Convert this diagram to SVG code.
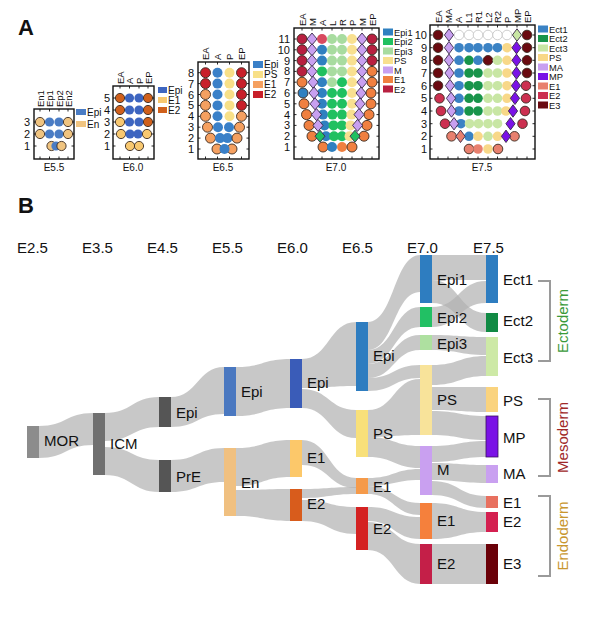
<svg xmlns="http://www.w3.org/2000/svg" width="600" height="623" viewBox="0 0 600 623">
<style>
text{font-family:"Liberation Sans",Arial,sans-serif;fill:#111}
.pl{font-size:22px;font-weight:bold}
.rl{font-size:11px;text-anchor:end}
.hd{font-size:9.5px}
.lg{font-size:10px}
.ls{font-size:9.3px}
.bl{font-size:10px;text-anchor:middle}
.box{fill:none;stroke:#111;stroke-width:1.4}
.tk{fill:none;stroke:#111;stroke-width:0.9}
.o{stroke:#3a2a20;stroke-width:0.9}
.dm{stroke:#3a2a4a;stroke-width:0.9}
#a55 circle{r:4.6px}
#a60 circle{r:4.6px}
#a65 circle{r:5px}
#a70 circle{r:5px}
#a75 circle{r:4.8px}
.c55epi{fill:#4a7cc4}.c55en{fill:#f0c480}
.c60epi{fill:#3d65c0}.c60e1{fill:#f8c870}.c60e2{fill:#d0601c}
.c65epi{fill:#3a80c8}.c65ps{fill:#f8e088}.c65e1{fill:#f5a060}.c65e2{fill:#c8202a}
.c70p1{fill:#2f80c0}.c70p2{fill:#20c060}.c70p3{fill:#a8dca0}.c70ps{fill:#f8e090}.c70m{fill:#c8a0f0}.c70e1{fill:#f08040}.c70e2{fill:#b82040}.c70x{fill:#d84a60}
.c75t1{fill:#3a82c4}.c75t2{fill:#18944a}.c75t3{fill:#c8e6a4}.c75ps{fill:#f8d888}.c75ma{fill:#c8a0f0}.c75mp{fill:#7a12e6}.c75e1{fill:#e8806e}.c75e2{fill:#cc3050}.c75e3{fill:#6a0a10}.c75no{fill:#fff;stroke:#c8c8c8;stroke-width:0.9}
.fl{fill:#b0b0b0;opacity:0.7}
.nl{font-size:15px}
.tl{font-size:15px;text-anchor:middle}
.br{fill:none;stroke:#9a9a9a;stroke-width:2}
.gl{font-size:15px;text-anchor:middle}
</style>
<defs>
<path id="d7" d="M0,-6L5,0L0,6L-5,0Z"/>
<path id="d8" d="M0,-6.2L4.6,0L0,6.2L-4.6,0Z"/>
</defs>

<text class="pl" x="18" y="35">A</text>
<text class="pl" x="18" y="213">B</text>

<!-- Panel A: E5.5 -->
<g id="a55">
<rect class="box" x="34" y="109" width="40" height="50"/>
<path class="tk" d="M34,122h2.5M34,134h2.5M34,146h2.5M74,122h-2.5M74,134h-2.5M74,146h-2.5M40,109v2.5M49.5,109v2.5M59,109v2.5M68,109v2.5M40,159v-2.5M49.5,159v-2.5M59,159v-2.5M68,159v-2.5"/>
<circle class="c55en o" cx="40" cy="122"/><circle class="c55epi" cx="49.5" cy="122"/><circle class="c55epi" cx="59" cy="122"/><circle class="c55en o" cx="68" cy="122"/>
<circle class="c55en o" cx="40" cy="134"/><circle class="c55epi" cx="49.5" cy="134"/><circle class="c55epi" cx="59" cy="134"/><circle class="c55en o" cx="68" cy="134"/>
<circle class="c55en o" cx="51.5" cy="146"/><circle class="c55epi" cx="56" cy="146"/><circle class="c55en o" cx="61.5" cy="146"/>
<text class="rl" x="30" y="126">3</text><text class="rl" x="30" y="138">2</text><text class="rl" x="30" y="150">1</text>
<text class="hd" transform="translate(43.5,107) rotate(-90)">En1</text>
<text class="hd" transform="translate(53,107) rotate(-90)">Ep1</text>
<text class="hd" transform="translate(62.5,107) rotate(-90)">Ep2</text>
<text class="hd" transform="translate(71.5,107) rotate(-90)">En2</text>
<rect class="c55epi" x="76" y="109" width="10" height="6"/><text class="lg" x="87" y="115.5">Epi</text>
<rect class="c55en" x="76" y="121" width="10" height="6"/><text class="lg" x="87" y="127.5">En</text>
<text class="bl" x="54" y="171">E5.5</text>
</g>

<!-- Panel A: E6.0 -->
<g id="a60">
<rect class="box" x="113" y="86" width="41" height="73"/>
<path class="tk" d="M113,98h2.5M113,110h2.5M113,122h2.5M113,134h2.5M113,146h2.5M154,98h-2.5M154,110h-2.5M154,122h-2.5M154,134h-2.5M154,146h-2.5M120,86v2.5M129.5,86v2.5M139,86v2.5M148,86v2.5M120,159v-2.5M129.5,159v-2.5M139,159v-2.5M148,159v-2.5"/>
<circle class="c60e2 o" cx="120" cy="98"/><circle class="c60epi" cx="129.5" cy="98"/><circle class="c60epi" cx="139" cy="98"/><circle class="c60e2 o" cx="148" cy="98"/>
<circle class="c60e2 o" cx="120" cy="110"/><circle class="c60epi" cx="129.5" cy="110"/><circle class="c60epi" cx="139" cy="110"/><circle class="c60e2 o" cx="148" cy="110"/>
<circle class="c60e1 o" cx="120" cy="122"/><circle class="c60epi" cx="129.5" cy="122"/><circle class="c60epi" cx="139" cy="122"/><circle class="c60e2 o" cx="148" cy="122"/>
<circle class="c60e1 o" cx="121" cy="134"/><circle class="c60epi" cx="130" cy="134"/><circle class="c60epi" cx="138" cy="134"/><circle class="c60e1 o" cx="147" cy="134"/>
<circle class="c60e1 o" cx="130" cy="146"/><circle class="c60e1 o" cx="139" cy="146"/>
<text class="rl" x="110" y="102">5</text><text class="rl" x="110" y="114">4</text><text class="rl" x="110" y="126">3</text><text class="rl" x="110" y="138">2</text><text class="rl" x="110" y="150">1</text>
<text class="hd" transform="translate(123.5,84) rotate(-90)">EA</text>
<text class="hd" transform="translate(133,84) rotate(-90)">A</text>
<text class="hd" transform="translate(142.5,84) rotate(-90)">P</text>
<text class="hd" transform="translate(151.5,84) rotate(-90)">EP</text>
<rect class="c60epi" x="158" y="87" width="9" height="6"/><text class="lg" x="168" y="93.5">Epi</text>
<rect class="c60e1" x="158" y="97" width="9" height="6"/><text class="lg" x="168" y="103.5">E1</text>
<rect class="c60e2" x="158" y="107" width="9" height="6"/><text class="lg" x="168" y="113.5">E2</text>
<text class="bl" x="133" y="171">E6.0</text>
</g>

<!-- Panel A: E6.5 -->
<g id="a65">
<rect class="box" x="198" y="62" width="51" height="97"/>
<path class="tk" d="M198,72.7h2.5M198,83.6h2.5M198,94.5h2.5M198,105.4h2.5M198,116.3h2.5M198,127.2h2.5M198,138.1h2.5M198,149h2.5M249,72.7h-2.5M249,83.6h-2.5M249,94.5h-2.5M249,105.4h-2.5M249,116.3h-2.5M249,127.2h-2.5M249,138.1h-2.5M249,149h-2.5M205.5,62v2.5M217.5,62v2.5M229.5,62v2.5M241.5,62v2.5M205.5,159v-2.5M217.5,159v-2.5M229.5,159v-2.5M241.5,159v-2.5"/>
<circle class="c65e2 o" cx="205.5" cy="72.7"/><circle class="c65epi" cx="217.5" cy="72.7"/><circle class="c65ps" cx="229.5" cy="72.7"/><circle class="c65e2 o" cx="241.5" cy="72.7"/>
<circle class="c65e2 o" cx="205.5" cy="83.6"/><circle class="c65epi" cx="217.5" cy="83.6"/><circle class="c65ps" cx="229.5" cy="83.6"/><circle class="c65e2 o" cx="241.5" cy="83.6"/>
<circle class="c65e1 o" cx="205.5" cy="94.5"/><circle class="c65epi" cx="217.5" cy="94.5"/><circle class="c65ps" cx="229.5" cy="94.5"/><circle class="c65e2 o" cx="241.5" cy="94.5"/>
<circle class="c65e1 o" cx="205.5" cy="105.4"/><circle class="c65epi" cx="217.5" cy="105.4"/><circle class="c65ps" cx="229.5" cy="105.4"/><circle class="c65e2 o" cx="241.5" cy="105.4"/>
<circle class="c65e1 o" cx="205.5" cy="116.3"/><circle class="c65epi" cx="217.5" cy="116.3"/><circle class="c65ps" cx="229.5" cy="116.3"/><circle class="c65e1 o" cx="241.5" cy="116.3"/>
<circle class="c65e1 o" cx="207.5" cy="127.2"/><circle class="c65epi" cx="218" cy="127.2"/><circle class="c65epi" cx="229" cy="127.2"/><circle class="c65e1 o" cx="239.5" cy="127.2"/>
<circle class="c65e1 o" cx="210.5" cy="138.1"/><circle class="c65epi" cx="220" cy="138.1"/><circle class="c65epi" cx="227.5" cy="138.1"/><circle class="c65e1 o" cx="237" cy="138.1"/>
<circle class="c65e1 o" cx="217" cy="149"/><circle class="c65e1 o" cx="232" cy="149"/><circle class="c65epi" cx="224.5" cy="149"/>
<text class="rl" x="194" y="76.7">8</text><text class="rl" x="194" y="87.6">7</text><text class="rl" x="194" y="98.5">6</text><text class="rl" x="194" y="109.4">5</text><text class="rl" x="194" y="120.3">4</text><text class="rl" x="194" y="131.2">3</text><text class="rl" x="194" y="142.1">2</text><text class="rl" x="194" y="153">1</text>
<text class="hd" transform="translate(209,60) rotate(-90)">EA</text>
<text class="hd" transform="translate(221,60) rotate(-90)">A</text>
<text class="hd" transform="translate(233,60) rotate(-90)">P</text>
<text class="hd" transform="translate(245,60) rotate(-90)">EP</text>
<rect class="c65epi" x="253" y="61" width="10" height="7"/><text class="lg" x="264" y="68">Epi</text>
<rect class="c65ps" x="253" y="71" width="10" height="7"/><text class="lg" x="264" y="78">PS</text>
<rect class="c65e1" x="253" y="81" width="10" height="7"/><text class="lg" x="264" y="88">E1</text>
<rect class="c65e2" x="253" y="91" width="10" height="7"/><text class="lg" x="264" y="98">E2</text>
<text class="bl" x="223" y="171">E6.5</text>
</g>

<!-- Panel A: E7.0 -->
<g id="a70">
<rect class="box" x="294" y="28" width="85" height="131"/>
<path class="tk" d="M294,39h2.5M294,49.8h2.5M294,60.6h2.5M294,71.4h2.5M294,82.2h2.5M294,93h2.5M294,103.8h2.5M294,114.6h2.5M294,125.4h2.5M294,136.2h2.5M294,147h2.5M379,39h-2.5M379,49.8h-2.5M379,60.6h-2.5M379,71.4h-2.5M379,82.2h-2.5M379,93h-2.5M379,103.8h-2.5M379,114.6h-2.5M379,125.4h-2.5M379,136.2h-2.5M379,147h-2.5M302,28v2.5M312,28v2.5M322,28v2.5M332,28v2.5M342,28v2.5M352,28v2.5M362,28v2.5M372,28v2.5M302,159v-2.5M312,159v-2.5M322,159v-2.5M332,159v-2.5M342,159v-2.5M352,159v-2.5M362,159v-2.5M372,159v-2.5"/>
<circle class="c70e2 o" cx="302" cy="39"/><circle class="c70e2 o" cx="372" cy="39"/>
<circle class="c70e2 o" cx="302" cy="49.8"/><circle class="c70e2 o" cx="372" cy="49.8"/>
<circle class="c70e2 o" cx="302" cy="60.6"/><circle class="c70e2 o" cx="372" cy="60.6"/>
<circle class="c70e2 o" cx="302" cy="71.4"/><circle class="c70e1 o" cx="372" cy="71.4"/>
<circle class="c70e1 o" cx="302" cy="82.2"/><circle class="c70e1 o" cx="372" cy="82.2"/>
<circle class="c70p1 o" cx="303" cy="93"/><circle class="c70e1 o" cx="371" cy="93"/>
<circle class="c70e1 o" cx="304" cy="103.8"/><circle class="c70e1 o" cx="371" cy="103.8"/>
<circle class="c70e1 o" cx="306.5" cy="114.6"/><circle class="c70e1 o" cx="369" cy="114.6"/>
<circle class="c70e1 o" cx="309" cy="125.4"/><circle class="c70e1 o" cx="367" cy="125.4"/>
<circle class="c70e1 o" cx="312" cy="136.2"/><circle class="c70e1 o" cx="364" cy="136.2"/>
<circle class="c70x" cx="322" cy="39"/><circle class="c70p3" cx="332" cy="39"/><circle class="c70p3" cx="342" cy="39"/><circle class="c70ps" cx="352" cy="39"/>
<circle class="c70p1" cx="322" cy="49.8"/><circle class="c70p3" cx="332" cy="49.8"/><circle class="c70p3" cx="342" cy="49.8"/><circle class="c70ps" cx="352" cy="49.8"/>
<circle class="c70p1" cx="322" cy="60.6"/><circle class="c70p3" cx="332" cy="60.6"/><circle class="c70p3" cx="342" cy="60.6"/><circle class="c70ps" cx="352" cy="60.6"/>
<circle class="c70p2" cx="322" cy="71.4"/><circle class="c70p3" cx="332" cy="71.4"/><circle class="c70p3" cx="342" cy="71.4"/><circle class="c70ps" cx="352" cy="71.4"/>
<circle class="c70p1" cx="322" cy="82.2"/><circle class="c70p3" cx="332" cy="82.2"/><circle class="c70p2" cx="342" cy="82.2"/><circle class="c70ps" cx="352" cy="82.2"/>
<circle class="c70p1" cx="322" cy="93"/><circle class="c70p2" cx="332" cy="93"/><circle class="c70p2" cx="342" cy="93"/><circle class="c70ps" cx="352" cy="93"/>
<circle class="c70p1" cx="322" cy="103.8"/><circle class="c70p2" cx="332" cy="103.8"/><circle class="c70p2" cx="342" cy="103.8"/><circle class="c70ps" cx="352" cy="103.8"/>
<circle class="c70p1" cx="323" cy="114.6"/><circle class="c70p2" cx="332.5" cy="114.6"/><circle class="c70p2" cx="342" cy="114.6"/><circle class="c70ps" cx="351.5" cy="114.6"/>
<circle class="c70p1" cx="324.5" cy="125.4"/><circle class="c70p2" cx="333.5" cy="125.4"/><circle class="c70p2" cx="342" cy="125.4"/><circle class="c70ps" cx="350.5" cy="125.4"/>
<circle class="c70p1" cx="326" cy="136.2"/><circle class="c70p2" cx="334" cy="136.2"/><circle class="c70p2" cx="342" cy="136.2"/><circle class="c70ps" cx="349.5" cy="136.2"/>
<circle class="c70e1 o" cx="323" cy="147"/><circle class="c70e1" cx="342" cy="147"/><circle class="c70e1 o" cx="352" cy="147"/><circle class="c70p1" cx="332" cy="147"/>
<use href="#d7" class="c70m dm" x="312" y="39"/><use href="#d7" class="c70m dm" x="362" y="39"/>
<use href="#d7" class="c70m dm" x="312" y="49.8"/><use href="#d7" class="c70m dm" x="362" y="49.8"/>
<use href="#d7" class="c70m dm" x="312" y="60.6"/><use href="#d7" class="c70m dm" x="362" y="60.6"/>
<use href="#d7" class="c70m dm" x="312" y="71.4"/><use href="#d7" class="c70m dm" x="362" y="71.4"/>
<use href="#d7" class="c70m dm" x="313" y="82.2"/><use href="#d7" class="c70m dm" x="362" y="82.2"/>
<use href="#d7" class="c70m dm" x="314" y="93"/><use href="#d7" class="c70m dm" x="361" y="93"/>
<use href="#d7" class="c70m dm" x="315" y="103.8"/><use href="#d7" class="c70m dm" x="360" y="103.8"/>
<use href="#d7" class="c70m dm" x="316.5" y="114.6"/><use href="#d7" class="c70m dm" x="359" y="114.6"/>
<use href="#d7" class="c70m dm" x="318" y="125.4"/><use href="#d7" class="c70m dm" x="357.5" y="125.4"/>
<use href="#d7" class="c70p2 dm" x="320" y="136.2"/><use href="#d7" class="c70p2 dm" x="355" y="136.2"/>
<text class="rl" x="290" y="43">11</text><text class="rl" x="290" y="53.8">10</text><text class="rl" x="290" y="64.6">9</text><text class="rl" x="290" y="75.4">8</text><text class="rl" x="290" y="86.2">7</text><text class="rl" x="290" y="97">6</text><text class="rl" x="290" y="107.8">5</text><text class="rl" x="290" y="118.6">4</text><text class="rl" x="290" y="129.4">3</text><text class="rl" x="290" y="140.2">2</text><text class="rl" x="290" y="151">1</text>
<text class="hd" transform="translate(305.5,26) rotate(-90)">EA</text>
<text class="hd" transform="translate(315.5,26) rotate(-90)">M</text>
<text class="hd" transform="translate(325.5,26) rotate(-90)">A</text>
<text class="hd" transform="translate(335.5,26) rotate(-90)">L</text>
<text class="hd" transform="translate(345.5,26) rotate(-90)">R</text>
<text class="hd" transform="translate(355.5,26) rotate(-90)">P</text>
<text class="hd" transform="translate(365.5,26) rotate(-90)">M</text>
<text class="hd" transform="translate(375.5,26) rotate(-90)">EP</text>
<rect class="c70p1" x="383" y="28.5" width="10" height="7"/><text class="ls" x="394" y="35.5">Epi1</text>
<rect class="c70p2" x="383" y="38" width="10" height="7"/><text class="ls" x="394" y="45">Epi2</text>
<rect class="c70p3" x="383" y="47.5" width="10" height="7"/><text class="ls" x="394" y="54.5">Epi3</text>
<rect class="c70ps" x="383" y="57" width="10" height="7"/><text class="ls" x="394" y="64">PS</text>
<rect class="c70m" x="383" y="66.5" width="10" height="7"/><text class="ls" x="394" y="73.5">M</text>
<rect class="c70e1" x="383" y="76" width="10" height="7"/><text class="ls" x="394" y="83">E1</text>
<rect class="c70e2" x="383" y="85.5" width="10" height="7"/><text class="ls" x="394" y="92.5">E2</text>
<text class="bl" x="336" y="171">E7.0</text>
</g>

<!-- Panel A: E7.5 -->
<g id="a75">
<rect class="box" x="430" y="25" width="105" height="134"/>
<path class="tk" d="M430,35h2.5M430,47.7h2.5M430,60.3h2.5M430,73h2.5M430,85.7h2.5M430,98.3h2.5M430,111h2.5M430,123.7h2.5M430,136.3h2.5M430,149h2.5M535,35h-2.5M535,47.7h-2.5M535,60.3h-2.5M535,73h-2.5M535,85.7h-2.5M535,98.3h-2.5M535,111h-2.5M535,123.7h-2.5M535,136.3h-2.5M535,149h-2.5M438,25v2.5M448,25v2.5M458,25v2.5M468,25v2.5M478,25v2.5M488,25v2.5M497.5,25v2.5M507,25v2.5M517,25v2.5M527,25v2.5M438,159v-2.5M448,159v-2.5M458,159v-2.5M468,159v-2.5M478,159v-2.5M488,159v-2.5M497.5,159v-2.5M507,159v-2.5M517,159v-2.5M527,159v-2.5"/>
<circle class="c75e3 o" cx="438" cy="35"/><circle class="c75e3 o" cx="527" cy="35"/>
<circle class="c75e3 o" cx="438" cy="47.7"/><circle class="c75e3 o" cx="527" cy="47.7"/>
<circle class="c75e3 o" cx="438" cy="60.3"/><circle class="c75e3 o" cx="527" cy="60.3"/>
<circle class="c75e3 o" cx="438" cy="73"/><circle class="c75e3 o" cx="527" cy="73"/>
<circle class="c75e3 o" cx="438" cy="85.7"/><circle class="c75e2 o" cx="526" cy="85.7"/>
<circle class="c75e2 o" cx="439.5" cy="98.3"/><circle class="c75e2 o" cx="526" cy="98.3"/>
<circle class="c75e2 o" cx="441" cy="111"/><circle class="c75e2 o" cx="525" cy="111"/>
<circle class="c75e2 o" cx="445" cy="123.7"/><circle class="c75e2 o" cx="522.5" cy="123.7"/>
<circle class="c75e1 o" cx="451.5" cy="136.3"/><circle class="c75e1 o" cx="514.5" cy="136.3"/>
<circle class="c75no" cx="459" cy="35"/><circle class="c75no" cx="469" cy="35"/><circle class="c75no" cx="478" cy="35"/><circle class="c75no" cx="488" cy="35"/><circle class="c75no" cx="497.5" cy="35"/><circle class="c75no" cx="507" cy="35"/>
<circle class="c75t1" cx="459" cy="47.7"/><circle class="c75t1" cx="469" cy="47.7"/><circle class="c75t1" cx="478" cy="47.7"/><circle class="c75t1" cx="488" cy="47.7"/><circle class="c75t1" cx="497.5" cy="47.7"/><circle class="c75ps" cx="507" cy="47.7"/>
<circle class="c75t1" cx="459" cy="60.3"/><circle class="c75t2" cx="469" cy="60.3"/><circle class="c75t1" cx="478" cy="60.3"/><circle class="c75e3 o" cx="488" cy="60.3"/><circle class="c75t3" cx="497.5" cy="60.3"/><circle class="c75ps" cx="507" cy="60.3"/>
<circle class="c75t1" cx="459" cy="73"/><circle class="c75t2" cx="469" cy="73"/><circle class="c75t2" cx="478" cy="73"/><circle class="c75t3" cx="488" cy="73"/><circle class="c75t3" cx="497.5" cy="73"/><circle class="c75ps" cx="507" cy="73"/>
<circle class="c75t1" cx="459" cy="85.7"/><circle class="c75t2" cx="469" cy="85.7"/><circle class="c75t2" cx="478" cy="85.7"/><circle class="c75t3" cx="488" cy="85.7"/><circle class="c75t3" cx="497.5" cy="85.7"/><circle class="c75ps" cx="507" cy="85.7"/>
<circle class="c75t1" cx="459" cy="98.3"/><circle class="c75t2" cx="469" cy="98.3"/><circle class="c75t2" cx="478" cy="98.3"/><circle class="c75t3" cx="488" cy="98.3"/><circle class="c75t3" cx="497.5" cy="98.3"/><circle class="c75ps" cx="507" cy="98.3"/>
<circle class="c75t1" cx="459" cy="111"/><circle class="c75t2" cx="469" cy="111"/><circle class="c75t2" cx="478" cy="111"/><circle class="c75t3" cx="488" cy="111"/><circle class="c75t3" cx="497.5" cy="111"/><circle class="c75ps" cx="506" cy="111"/>
<circle class="c75t1" cx="461" cy="123.7"/><circle class="c75t3" cx="469.5" cy="123.7"/><circle class="c75t3" cx="478.5" cy="123.7"/><circle class="c75t3" cx="488" cy="123.7"/><circle class="c75t3" cx="497.5" cy="123.7"/>
<circle class="c75t1" cx="469" cy="136.3"/><circle class="c75ps" cx="478" cy="136.3"/><circle class="c75t3" cx="488" cy="136.3"/><circle class="c75ps" cx="497.5" cy="136.3"/>
<circle class="c75e1 o" cx="469" cy="149"/><circle class="c75e1" cx="478" cy="149"/><circle class="c75ps" cx="488" cy="149"/><circle class="c75e1 o" cx="498" cy="149"/>
<use href="#d8" class="c75ma dm" x="449" y="35"/><use href="#d8" class="c75t3 dm" x="517" y="35"/>
<use href="#d8" class="c75ma dm" x="449" y="47.7"/><use href="#d8" class="c75mp dm" x="516.5" y="47.7"/>
<use href="#d8" class="c75ma dm" x="449" y="60.3"/><use href="#d8" class="c75mp dm" x="516.5" y="60.3"/>
<use href="#d8" class="c75ma dm" x="449.5" y="73"/><use href="#d8" class="c75mp dm" x="516.5" y="73"/>
<use href="#d8" class="c75ma dm" x="450" y="85.7"/><use href="#d8" class="c75mp dm" x="516" y="85.7"/>
<use href="#d8" class="c75ma dm" x="451" y="98.3"/><use href="#d8" class="c75mp dm" x="515" y="98.3"/>
<use href="#d8" class="c75ma dm" x="451.5" y="111"/><use href="#d8" class="c75mp dm" x="513" y="111"/>
<use href="#d8" class="c75ma dm" x="454" y="123.7"/><use href="#d8" class="c75mp dm" x="510.5" y="123.7"/>
<use href="#d8" class="c75e1 dm" x="460.5" y="136.3"/><use href="#d8" class="c75mp dm" x="506" y="136.3"/>
<text class="rl" x="427" y="39">10</text><text class="rl" x="427" y="51.7">9</text><text class="rl" x="427" y="64.3">8</text><text class="rl" x="427" y="77">7</text><text class="rl" x="427" y="89.7">6</text><text class="rl" x="427" y="102.3">5</text><text class="rl" x="427" y="115">4</text><text class="rl" x="427" y="127.7">3</text><text class="rl" x="427" y="140.3">2</text><text class="rl" x="427" y="153">1</text>
<text class="hd" transform="translate(441.5,23) rotate(-90)">EA</text>
<text class="hd" transform="translate(451.5,23) rotate(-90)">MA</text>
<text class="hd" transform="translate(461.5,23) rotate(-90)">A</text>
<text class="hd" transform="translate(471.5,23) rotate(-90)">L1</text>
<text class="hd" transform="translate(481.5,23) rotate(-90)">R1</text>
<text class="hd" transform="translate(491.5,23) rotate(-90)">L2</text>
<text class="hd" transform="translate(501,23) rotate(-90)">R2</text>
<text class="hd" transform="translate(510.5,23) rotate(-90)">P</text>
<text class="hd" transform="translate(520.5,23) rotate(-90)">MP</text>
<text class="hd" transform="translate(530.5,23) rotate(-90)">EP</text>
<rect class="c75t1" x="538" y="25.5" width="10" height="7"/><text class="ls" x="549" y="32.5">Ect1</text>
<rect class="c75t2" x="538" y="35" width="10" height="7"/><text class="ls" x="549" y="42">Ect2</text>
<rect class="c75t3" x="538" y="44.5" width="10" height="7"/><text class="ls" x="549" y="51.5">Ect3</text>
<rect class="c75ps" x="538" y="54" width="10" height="7"/><text class="ls" x="549" y="61">PS</text>
<rect class="c75ma" x="538" y="63.5" width="10" height="7"/><text class="ls" x="549" y="70.5">MA</text>
<rect class="c75mp" x="538" y="73" width="10" height="7"/><text class="ls" x="549" y="80">MP</text>
<rect class="c75e1" x="538" y="82.5" width="10" height="7"/><text class="ls" x="549" y="89.5">E1</text>
<rect class="c75e2" x="538" y="92" width="10" height="7"/><text class="ls" x="549" y="99">E2</text>
<rect class="c75e3" x="538" y="101.5" width="10" height="7"/><text class="ls" x="549" y="108.5">E3</text>
<text class="bl" x="482" y="171">E7.5</text>
</g>

<!-- Panel B timeline -->
<g id="timeline">
<text class="tl" x="32.5" y="253">E2.5</text>
<text class="tl" x="97.5" y="253">E3.5</text>
<text class="tl" x="162.5" y="253">E4.5</text>
<text class="tl" x="227.5" y="253">E5.5</text>
<text class="tl" x="292.5" y="253">E6.0</text>
<text class="tl" x="357.5" y="253">E6.5</text>
<text class="tl" x="422.5" y="253">E7.0</text>
<text class="tl" x="488.5" y="253">E7.5</text>
</g>

<!-- connectors -->
<g id="flows">
<path class="fl" d="M39,426C66,426 66,413 93,413L93,445C66,445 66,458 39,458Z"/>
<path class="fl" d="M105,413C132,413 132,397 159,397L159,427C132,427 132,441 105,441Z"/>
<path class="fl" d="M105,447C132,447 132,460 159,460L159,492C132,492 132,475 105,475Z"/>
<path class="fl" d="M171,397C197.5,397 197.5,367 224,367L224,414C197.5,414 197.5,427 171,427Z"/>
<path class="fl" d="M171,460C197.5,460 197.5,448 224,448L224,482C197.5,482 197.5,492 171,492Z"/>
<path class="fl" d="M236,367C263,367 263,359 290,359L290,408C263,408 263,416 236,416Z"/>
<path class="fl" d="M236,448C263,448 263,440 290,440L290,477C263,477 263,486 236,486Z"/>
<path class="fl" d="M236,490C263,490 263,489 290,489L290,521C263,521 263,516 236,516Z"/>
<path class="fl" d="M302,359C329,359 329,322 356,322L356,386C329,386 329,388 302,388Z"/>
<path class="fl" d="M302,389C329,389 329,410 356,410L356,438C329,438 329,408 302,408Z"/>
<path class="fl" d="M302,440C329,440 329,478 356,478L356,488C329,488 329,465 302,465Z"/>
<path class="fl" d="M302,489C329,489 329,487 356,487L356,494C329,494 329,498 302,498Z"/>
<path class="fl" d="M302,500C329,500 329,507 356,507L356,534C329,534 329,521 302,521Z"/>
<path class="fl" d="M368,322C394,322 394,255 420,255L420,292C394,292 394,350 368,350Z"/>
<path class="fl" d="M368,350C394,350 394,307 420,307L420,327C394,327 394,364 368,364Z"/>
<path class="fl" d="M368,364C394,364 394,335 420,335L420,350C394,350 394,378 368,378Z"/>
<path class="fl" d="M368,378C394,378 394,365 420,365L420,378C394,378 394,391 368,391Z"/>
<path class="fl" d="M368,410C394,410 394,379 420,379L420,435C394,435 394,437 368,437Z"/>
<path class="fl" d="M368,437C394,437 394,446 420,446L420,468C394,468 394,457 368,457Z"/>
<path class="fl" d="M368,478C394,478 394,469 420,469L420,480C394,480 394,486 368,486Z"/>
<path class="fl" d="M368,486C394,486 394,503 420,503L420,515C394,515 394,494 368,494Z"/>
<path class="fl" d="M368,507C394,507 394,517 420,517L420,539C394,539 394,521 368,521Z"/>
<path class="fl" d="M368,522C394,522 394,544 420,544L420,584C394,584 394,550 368,550Z"/>
<path class="fl" d="M432,255C459,255 459,255 486,255L486,280C459,280 459,280 432,280Z"/>
<path class="fl" d="M432,280C459,280 459,313 486,313L486,332C459,332 459,303 432,303Z"/>
<path class="fl" d="M432,307C459,307 459,281 486,281L486,303C459,303 459,327 432,327Z"/>
<path class="fl" d="M432,335C459,335 459,337 486,337L486,355C459,355 459,350 432,350Z"/>
<path class="fl" d="M432,365C459,365 459,356 486,356L486,376C459,376 459,385 432,385Z"/>
<path class="fl" d="M432,387C459,387 459,387 486,387L486,412C459,412 459,410 432,410Z"/>
<path class="fl" d="M432,411C459,411 459,416 486,416L486,440C459,440 459,435 432,435Z"/>
<path class="fl" d="M432,446C459,446 459,441 486,441L486,457C459,457 459,462 432,462Z"/>
<path class="fl" d="M432,463C459,463 459,465 486,465L486,483C459,483 459,480 432,480Z"/>
<path class="fl" d="M432,481C459,481 459,496 486,496L486,508C459,508 459,495 432,495Z"/>
<path class="fl" d="M432,503C459,503 459,512 486,512L486,532C459,532 459,539 432,539Z"/>
<path class="fl" d="M432,544C459,544 459,544 486,544L486,584C459,584 459,584 432,584Z"/>
</g>

<!-- nodes -->
<g id="n-mor"><rect x="27" y="426" width="12" height="32" fill="#8c8c8c"/><text class="nl" x="44" y="446">MOR</text></g>
<g id="n-icm"><rect x="93" y="413" width="12" height="62" fill="#707070"/><text class="nl" x="110" y="449">ICM</text></g>
<g id="n-epi45"><rect x="159" y="397" width="12" height="30" fill="#555"/><text class="nl" x="176" y="418">Epi</text></g>
<g id="n-pre"><rect x="159" y="460" width="12" height="32" fill="#555"/><text class="nl" x="176" y="482">PrE</text></g>
<g id="n-epi55"><rect x="224" y="367" width="12" height="49" fill="#4a78c0"/><text class="nl" x="241" y="397">Epi</text></g>
<g id="n-en"><rect x="224" y="448" width="12" height="68" fill="#f0c080"/><text class="nl" x="241" y="488">En</text></g>
<g id="n-epi60"><rect x="290" y="359" width="12" height="49" fill="#3a5cb8"/><text class="nl" x="307" y="388">Epi</text></g>
<g id="n-e1-60"><rect x="290" y="440" width="12" height="37" fill="#fcc86a"/><text class="nl" x="307" y="463">E1</text></g>
<g id="n-e2-60"><rect x="290" y="489" width="12" height="32" fill="#d85c1c"/><text class="nl" x="307" y="509">E2</text></g>
<g id="n-epi65"><rect x="356" y="322" width="12" height="69" fill="#2e7dc0"/><text class="nl" x="373" y="361">Epi</text></g>
<g id="n-ps65"><rect x="356" y="410" width="12" height="47" fill="#f8e07a"/><text class="nl" x="373" y="439">PS</text></g>
<g id="n-e1-65"><rect x="356" y="478" width="12" height="16" fill="#f59a4a"/><text class="nl" x="373" y="492">E1</text></g>
<g id="n-e2-65"><rect x="356" y="507" width="12" height="43" fill="#d42222"/><text class="nl" x="373" y="534">E2</text></g>
<g id="n-epi1"><rect x="420" y="255" width="12" height="48" fill="#2e7dc0"/><text class="nl" x="437" y="285">Epi1</text></g>
<g id="n-epi2"><rect x="420" y="307" width="12" height="20" fill="#22c064"/><text class="nl" x="437" y="323">Epi2</text></g>
<g id="n-epi3"><rect x="420" y="335" width="12" height="15" fill="#aee0a0"/><text class="nl" x="437" y="349">Epi3</text></g>
<g id="n-ps70"><rect x="420" y="365" width="12" height="70" fill="#f8e39a"/><text class="nl" x="437" y="405">PS</text></g>
<g id="n-m70"><rect x="420" y="446" width="12" height="49" fill="#c9a0f0"/><text class="nl" x="437" y="475">M</text></g>
<g id="n-e1-70"><rect x="420" y="503" width="12" height="36" fill="#f5803c"/><text class="nl" x="437" y="526">E1</text></g>
<g id="n-e2-70"><rect x="420" y="544" width="12" height="40" fill="#c41f48"/><text class="nl" x="437" y="569">E2</text></g>
<g id="n-ect1"><rect x="486" y="255" width="12" height="48" fill="#2e7dc0"/><text class="nl" x="503" y="285">Ect1</text></g>
<g id="n-ect2"><rect x="486" y="313" width="12" height="19" fill="#118a44"/><text class="nl" x="503" y="326">Ect2</text></g>
<g id="n-ect3"><rect x="486" y="337" width="12" height="39" fill="#cde9a6"/><text class="nl" x="503" y="363">Ect3</text></g>
<g id="n-ps75"><rect x="486" y="387" width="12" height="25" fill="#fad37e"/><text class="nl" x="503" y="406">PS</text></g>
<g id="n-mp"><rect x="486" y="416" width="12" height="41" fill="#7a12e6" stroke="#3a1060" stroke-width="0.8"/><text class="nl" x="503" y="443">MP</text></g>
<g id="n-ma"><rect x="486" y="465" width="12" height="18" fill="#c9a0f0"/><text class="nl" x="503" y="479">MA</text></g>
<g id="n-e1-75"><rect x="486" y="496" width="12" height="12" fill="#e8705f"/><text class="nl" x="503" y="508">E1</text></g>
<g id="n-e2-75"><rect x="486" y="512" width="12" height="20" fill="#d42050"/><text class="nl" x="503" y="527">E2</text></g>
<g id="n-e3"><rect x="486" y="544" width="12" height="40" fill="#6a0008"/><text class="nl" x="503" y="569">E3</text></g>

<!-- germ layer brackets -->
<g id="ectoderm"><path class="br" d="M538,281H550V361H538"/><text class="gl" transform="translate(568,321) rotate(-90)" style="fill:#3a9a3a">Ectoderm</text></g>
<g id="mesoderm"><path class="br" d="M538,399H550V476H538"/><text class="gl" transform="translate(568,437.5) rotate(-90)" style="fill:#a02828">Mesoderm</text></g>
<g id="endoderm"><path class="br" d="M538,496H550V576H538"/><text class="gl" transform="translate(568,536) rotate(-90)" style="fill:#c8962e">Endoderm</text></g>
</svg>
